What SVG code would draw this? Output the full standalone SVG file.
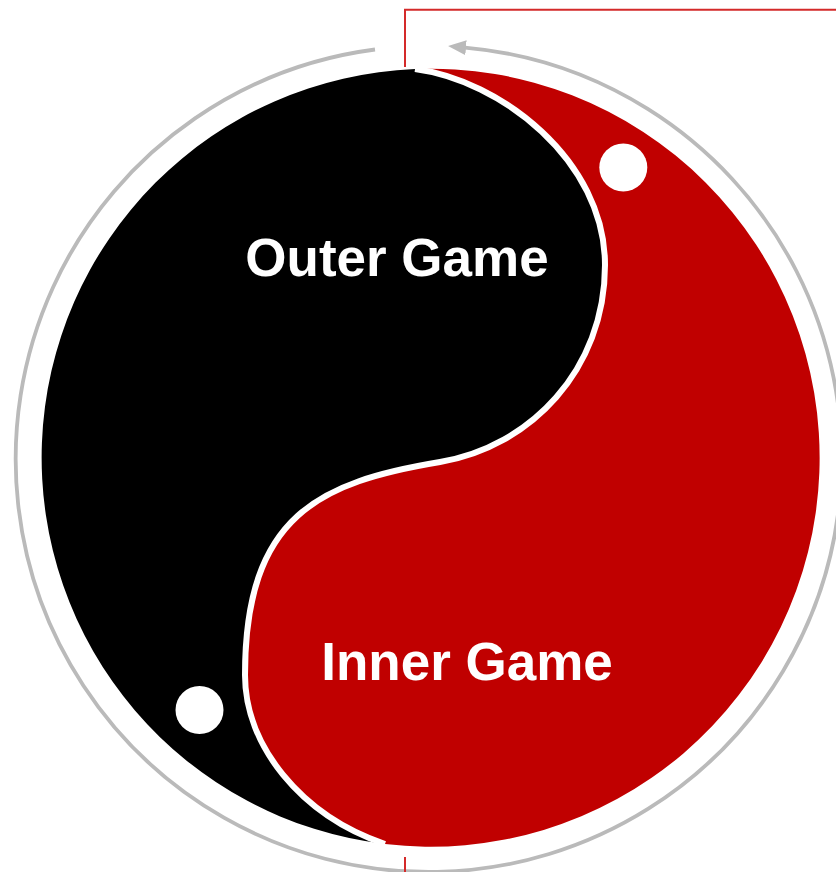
<svg xmlns="http://www.w3.org/2000/svg" width="836" height="872" viewBox="0 0 836 872">
  <style>
    .label { font-family: "Liberation Sans", Arial, sans-serif; font-weight: bold; font-size: 53px; fill: #ffffff; text-anchor: middle; }
    .cycle { fill: none; stroke: #bababa; stroke-width: 3.8; }
    .link { fill: none; stroke: #d42a2a; stroke-width: 2; }
    .dot { fill: #ffffff; }
  </style>
  <defs>
    <marker id="arrowGray" viewBox="0 0 18 15" refX="1" refY="7.5" markerUnits="userSpaceOnUse" markerWidth="18" markerHeight="15" orient="auto">
      <path d="M0,0 L18,7.5 L0,15 z" fill="#bababa"/>
    </marker>
  </defs>
  <rect width="836" height="872" fill="#ffffff"/>

  <g id="connectors">
    <path class="cycle" d="M375,49.5 A413,413 0 1 0 465,47.6" marker-end="url(#arrowGray)"/>
    <path class="link" d="M405,67 V9.7 H836"/>
    <path class="link" d="M405,857 V872"/>
  </g>

  <g id="inner-game">
    <path fill="#c00000" d="M415,69 A389,389 0 1 1 385,844 C300,815 245,745 245,675 C245,515 320,482 440,462 C530,447 605,370 605,265 C605,160 500,80 415,69 Z"/>
  </g>

  <g id="outer-game">
    <path fill="#000000" d="M415,69 C500,80 605,160 605,265 C605,370 530,447 440,462 C320,482 245,515 245,675 C245,745 300,815 385,844 A389,389 0 0 1 415,69 Z"/>
  </g>

  <g id="divider">
    <path fill="none" stroke="#ffffff" stroke-width="6" d="M415,69 C500,80 605,160 605,265 C605,370 530,447 440,462 C320,482 245,515 245,675 C245,745 300,815 385,844"/>
  </g>

  <g id="dot-upper">
    <circle class="dot" cx="623.3" cy="167.5" r="24"/>
  </g>
  <g id="dot-lower">
    <circle class="dot" cx="199.5" cy="710" r="24"/>
  </g>

  <g id="label-outer">
    <text class="label" x="397" y="276">Outer Game</text>
  </g>
  <g id="label-inner">
    <text class="label" x="467" y="680">Inner Game</text>
  </g>
</svg>
